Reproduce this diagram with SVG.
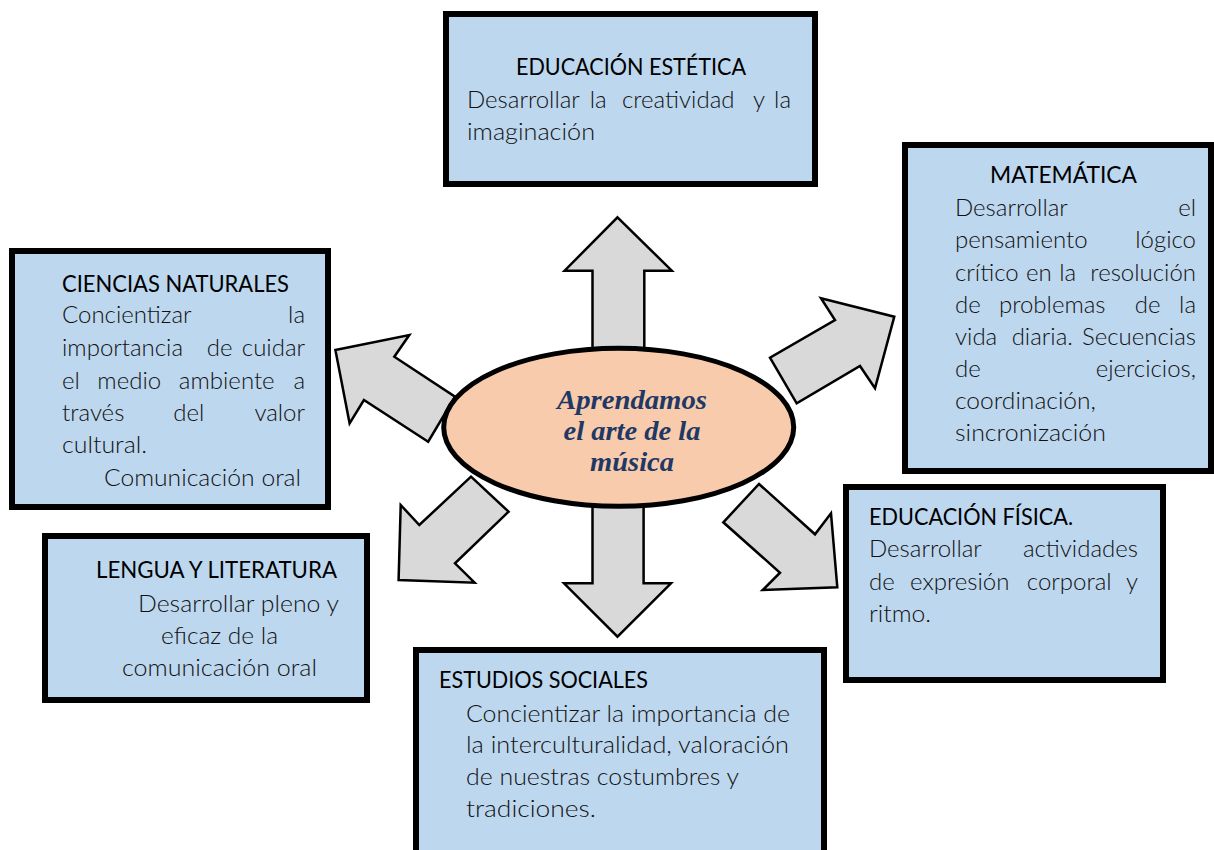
<svg xmlns="http://www.w3.org/2000/svg" width="1214" height="850" viewBox="0 0 1214 850">
<style>
.box{fill:#bdd7ee;stroke:#000;stroke-width:6}
.arrow{fill:#d9d9d9;stroke:#000;stroke-width:2.5;stroke-linejoin:miter}
.t{font-family:Lato,"Liberation Sans",sans-serif;font-size:23px;font-weight:400;fill:#000}
.b{font-family:Lato,"Liberation Sans",sans-serif;font-size:24px;font-weight:300;fill:#111}
.c{font-family:"Liberation Serif",serif;font-size:27px;font-weight:700;font-style:italic;fill:#1f3864;text-anchor:middle}
.e{text-anchor:end}
.m{text-anchor:middle}
</style>
<rect width="1214" height="850" fill="#fff"/>
<g id="connectors">
<polygon class="arrow" points="617.5,217.3 671.8,270.7 644.3,270.7 644.3,352 592.5,352 592.5,270.7 564.6,270.7"/>
<polygon class="arrow" points="592.5,500 643.6,500 643.6,583.3 671,583.3 617.5,636.7 564,583.3 592.5,583.3"/>
<polygon class="arrow" points="335.4,350 409.3,335 394.3,356.7 455,396.7 428.2,441.7 363.9,400 349.6,423.3"/>
<polygon class="arrow" points="894.3,316.7 875,388.3 860,366 796.7,403.3 770,357.7 835,320 821,298.3"/>
<polygon class="arrow" points="471,476.7 508.6,511.7 455,563.3 474.6,582.7 398.6,580 400.7,505 419.3,525"/>
<polygon class="arrow" points="759,484 815,534.3 831,513.3 837.3,587.3 762.7,590 780,572.7 723.3,522.3"/>
</g>
<g id="center">
<ellipse cx="618.7" cy="427.3" rx="175" ry="79" fill="#f8cbad" stroke="#000" stroke-width="5"/>
<text class="c" x="632" y="409" textLength="150" lengthAdjust="spacingAndGlyphs">Aprendamos</text>
<text class="c" x="632" y="440" textLength="137" lengthAdjust="spacingAndGlyphs">el arte de la</text>
<text class="c" x="632" y="471" textLength="84" lengthAdjust="spacingAndGlyphs">música</text>
</g>
<g id="educacion-estetica">
<rect class="box" x="446" y="14" width="369" height="170"/>
<text class="t" x="516" y="75" textLength="230" lengthAdjust="spacingAndGlyphs">EDUCACIÓN ESTÉTICA</text>
<text class="b" y="108"><tspan x="467">Desarrollar </tspan><tspan class="m" x="601.5">la </tspan><tspan class="m" x="681.5">creatividad  </tspan><tspan class="m" x="762">y </tspan><tspan class="e" x="791">la</tspan></text>
<text class="b" x="467" y="139.5" textLength="128" lengthAdjust="spacingAndGlyphs">imaginación</text>
</g>
<g id="matematica">
<rect class="box" x="905" y="145" width="306" height="326"/>
<text class="t" x="990" y="183" textLength="147" lengthAdjust="spacingAndGlyphs">MATEMÁTICA</text>
<text class="b" y="216"><tspan x="955">Desarrollar </tspan><tspan class="e" x="1196">el</tspan></text>
<text class="b" y="248"><tspan x="955">pensamiento </tspan><tspan class="e" x="1196">lógico</tspan></text>
<text class="b" y="281"><tspan x="955">crítico </tspan><tspan class="m" x="1042">en </tspan><tspan class="m" x="1071">la </tspan><tspan class="e" x="1196">resolución</tspan></text>
<text class="b" y="313"><tspan x="955">de </tspan><tspan class="m" x="1055.5">problemas </tspan><tspan class="m" x="1151">de </tspan><tspan class="e" x="1196">la</tspan></text>
<text class="b" y="345"><tspan x="955">vida </tspan><tspan class="m" x="1045.5">diaria. </tspan><tspan class="e" x="1196">Secuencias</tspan></text>
<text class="b" y="377"><tspan x="955">de </tspan><tspan class="e" x="1196">ejercicios,</tspan></text>
<text class="b" x="955" y="409" textLength="141" lengthAdjust="spacingAndGlyphs">coordinación,</text>
<text class="b" x="955" y="441" textLength="151" lengthAdjust="spacingAndGlyphs">sincronización</text>
</g>
<g id="ciencias-naturales">
<rect class="box" x="12" y="251" width="316" height="256"/>
<text class="t" x="62" y="292" textLength="227" lengthAdjust="spacingAndGlyphs">CIENCIAS NATURALES</text>
<text class="b" y="323"><tspan x="62">Concientizar </tspan><tspan class="e" x="305">la</tspan></text>
<text class="b" y="356"><tspan x="62">importancia </tspan><tspan class="m" x="223">de </tspan><tspan class="e" x="305">cuidar</tspan></text>
<text class="b" y="389"><tspan x="62">el </tspan><tspan class="m" x="132.5">medio </tspan><tspan class="m" x="230">ambiente </tspan><tspan class="e" x="305">a</tspan></text>
<text class="b" y="421"><tspan x="62">través </tspan><tspan class="m" x="192">del </tspan><tspan class="e" x="305">valor</tspan></text>
<text class="b" x="62" y="453" textLength="85" lengthAdjust="spacingAndGlyphs">cultural.</text>
<text class="b" x="104" y="486" textLength="197" lengthAdjust="spacingAndGlyphs">Comunicación oral</text>
</g>
<g id="lengua-literatura">
<rect class="box" x="45" y="536" width="322" height="164"/>
<text class="t" x="96" y="578" textLength="241" lengthAdjust="spacingAndGlyphs">LENGUA Y LITERATURA</text>
<text class="b" x="138" y="612" textLength="201" lengthAdjust="spacingAndGlyphs">Desarrollar pleno y</text>
<text class="b" x="161" y="644" textLength="117" lengthAdjust="spacingAndGlyphs">eficaz de la</text>
<text class="b" x="122" y="676" textLength="195" lengthAdjust="spacingAndGlyphs">comunicación oral</text>
</g>
<g id="estudios-sociales">
<rect class="box" x="416" y="650" width="408" height="220"/>
<text class="t" x="439" y="688" textLength="209" lengthAdjust="spacingAndGlyphs">ESTUDIOS SOCIALES</text>
<text class="b" x="466" y="722" textLength="324" lengthAdjust="spacingAndGlyphs">Concientizar la importancia de</text>
<text class="b" x="466" y="753" textLength="323" lengthAdjust="spacingAndGlyphs">la interculturalidad, valoración</text>
<text class="b" x="466" y="785" textLength="273" lengthAdjust="spacingAndGlyphs">de nuestras costumbres y</text>
<text class="b" x="466" y="817" textLength="130" lengthAdjust="spacingAndGlyphs">tradiciones.</text>
</g>
<g id="educacion-fisica">
<rect class="box" x="846" y="487" width="317" height="193"/>
<text class="t" x="869" y="525" textLength="204" lengthAdjust="spacingAndGlyphs">EDUCACIÓN FÍSICA.</text>
<text class="b" y="557"><tspan x="869">Desarrollar </tspan><tspan class="e" x="1138">actividades</tspan></text>
<text class="b" y="590"><tspan x="869">de </tspan><tspan class="m" x="963">expresión </tspan><tspan class="m" x="1072.5">corporal </tspan><tspan class="e" x="1138">y</tspan></text>
<text class="b" x="869" y="622" textLength="62" lengthAdjust="spacingAndGlyphs">ritmo.</text>
</g>
</svg>
